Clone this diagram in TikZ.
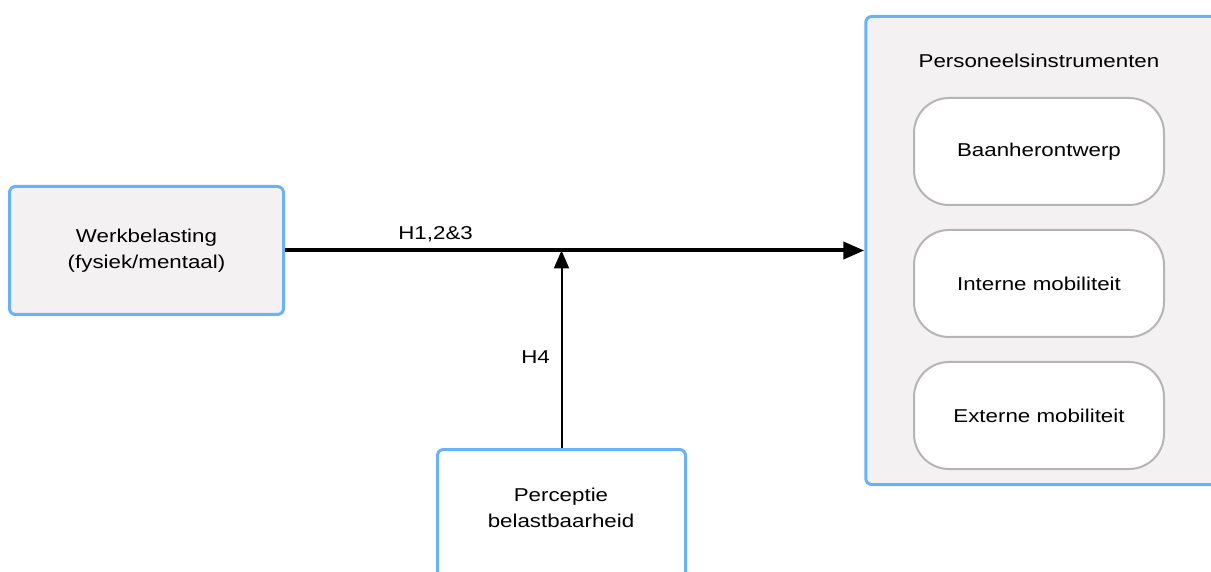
\documentclass[tikz,border=0pt]{standalone}
\usepackage{fontspec}
\setmainfont{Liberation Sans}[FakeStretch=1.2]
\usetikzlibrary{arrows.meta}
\usetikzlibrary{positioning}
\definecolor{boxblue}{HTML}{6AB2F7}
\definecolor{boxgrey}{HTML}{F3F1F2}
\definecolor{pillgrey}{HTML}{B5B5B5}

\begin{document}
\begin{tikzpicture}[
		x=0.5pt, y=-0.5pt,
		node distance=11.5pt,
		font=\fontsize{9.3}{13}\selectfont,
		box/.style={draw=boxblue, line width=1.5pt, rounded corners=3pt, fill=boxgrey, align=center},
		pill/.style={draw=pillgrey, line width=1pt, rounded corners=17.5pt, fill=white, minimum width=125pt, minimum height=53.5pt},
		arrow/.style={line width=2pt, -{Triangle[length=10.5pt, width=8.5pt]}},
		thinarrow/.style={line width=1pt, -{Triangle[length=9pt, width=7.5pt]}},
	]
	\useasboundingbox (0,0) rectangle (1211,572);

	\node (werk) [box, minimum width=137pt, minimum height=64pt] at (146.5,250.5) {Werkbelasting\\(fysiek/mentaal)};
	\node (pers) [box, minimum width=187pt, minimum height=234pt] at (1052.75,250.5) {};
	\node (title) at (1039,61) {Personeelsinstrumenten};
	\node (baan) [pill] at (1039,151.5) {Baanherontwerp};
	\node (intern) [pill, below=of baan] {Interne mobiliteit};
	\node (extern) [pill, below=of intern] {Externe mobiliteit};
	\node (perc) [box, fill=white, minimum width=124pt, minimum height=125pt, anchor=north] at (561.5,448) {};
	\node (percText) [align=center] at (561,508) {Perceptie\\belastbaarheid};

	\draw[thinarrow] (perc.north) -- node[left=2pt, pos=0.46] (hfour) {H4} (perc.north |- werk);
	\draw[arrow] (werk) -- node[above, pos=0.26] (hmain) {H1,2\&3} (werk -| pers.west);
\end{tikzpicture}
\end{document}
